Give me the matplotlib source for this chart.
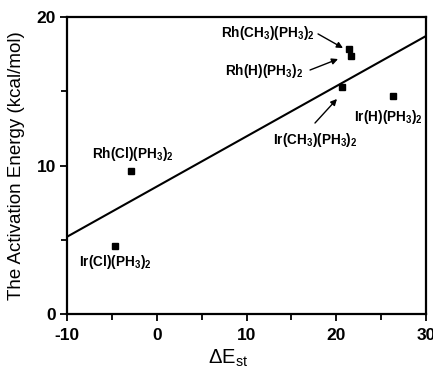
import matplotlib
matplotlib.use("Agg")
import matplotlib.pyplot as plt
from matplotlib.ticker import MultipleLocator

plt.rcParams['font.family'] = ['Liberation Sans', 'DejaVu Sans']
plt.rcParams['mathtext.fontset'] = 'custom'
plt.rcParams['mathtext.rm'] = 'Liberation Sans'
plt.rcParams['mathtext.bf'] = 'Liberation Sans:bold'
plt.rcParams['mathtext.it'] = 'Liberation Sans'
plt.rcParams['axes.unicode_minus'] = False

# data
names = [r'Rh(CH$_\mathbf{3}$)(PH$_\mathbf{3}$)$_\mathbf{2}$',
         r'Rh(H)(PH$_\mathbf{3}$)$_\mathbf{2}$',
         r'Ir(CH$_\mathbf{3}$)(PH$_\mathbf{3}$)$_\mathbf{2}$',
         r'Ir(H)(PH$_\mathbf{3}$)$_\mathbf{2}$',
         r'Rh(Cl)(PH$_\mathbf{3}$)$_\mathbf{2}$',
         r'Ir(Cl)(PH$_\mathbf{3}$)$_\mathbf{2}$']
dE_st = [21.4, 21.6, 20.6, 26.3, -2.9, -4.6]
Ea = [17.85, 17.37, 15.29, 14.68, 9.63, 4.58]
fit_x = [-10, 30]
fit_y = [5.2, 18.72]

# label placement (baseline positions)
label_pos = [(17.63, 18.62, 'right'),
             (16.3, 16.12, 'right'),
             (17.63, 11.45, 'center'),
             (25.77, 12.98, 'center'),
             (-2.65, 10.5, 'center'),
             (-4.65, 3.2, 'center')]
arrow_tails = [(17.97, 18.86), (17.08, 16.43), (17.63, 12.86), None, None, None]
arrow_heads = [(20.75, 17.91), (20.2, 17.17), (20.08, 14.48), None, None, None]

fig = plt.figure(figsize=(4.33, 3.74), dpi=100)
ax = fig.add_axes([67/433, 60/374, 359/433, 297/374])

ax.plot(fit_x, fit_y, color='black', lw=1.5, solid_capstyle='butt')
ax.plot(dE_st, Ea, 's', color='black', ms=4.5, mec='black')

for name, (tx, ty, ha), tail, head in zip(names, label_pos, arrow_tails, arrow_heads):
    ax.text(tx, ty, name, ha=ha, va='baseline', fontsize=9.8, fontweight='bold')
    if head is not None:
        ax.annotate('', xy=head, xytext=tail,
                    arrowprops=dict(arrowstyle='-|>', color='black', lw=1.0,
                                    mutation_scale=9, shrinkA=0, shrinkB=0))

ax.set_xlim(-10, 30)
ax.set_ylim(0, 20)
ax.xaxis.set_major_locator(MultipleLocator(10))
ax.xaxis.set_minor_locator(MultipleLocator(5))
ax.yaxis.set_major_locator(MultipleLocator(10))
ax.yaxis.set_minor_locator(MultipleLocator(5))
ax.tick_params(which='both', direction='out', width=1.3, top=False, right=False)
ax.tick_params(which='major', length=5, labelsize=12.5)
ax.tick_params(axis='x', which='major', pad=5)
ax.tick_params(axis='y', which='major', pad=3)
ax.tick_params(which='minor', length=4)
for lab in ax.get_xticklabels() + ax.get_yticklabels():
    lab.set_fontweight('bold')
for sp in ax.spines.values():
    sp.set_linewidth(1.6)

ax.set_ylabel('The Activation Energy (kcal/mol)', fontsize=13.5, labelpad=8)
ax.set_xlabel(r'$\Delta$E$_{\rm st}$', fontsize=14.5, labelpad=3)
ax.xaxis.set_label_coords((228 - 67) / 359, -0.115, transform=ax.transAxes)
ax.xaxis.label.set_va('top')

fig.savefig('out.png', dpi=100)
